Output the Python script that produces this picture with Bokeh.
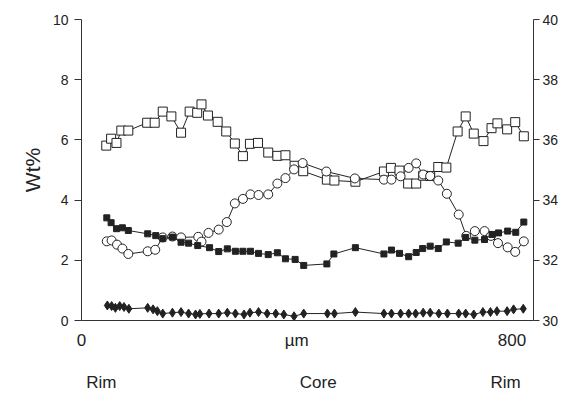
from bokeh.plotting import figure
from bokeh.models import Range1d, LinearAxis, FixedTicker
from bokeh.embed import file_html
from bokeh.resources import INLINE

# ---- data (x in µm) ----
sq_open_x = [46, 55, 65, 74, 87, 122, 136, 151, 167, 185, 201, 215, 223, 235, 253, 269, 285, 300, 313, 328,
             347, 364, 379, 396, 412, 456, 470, 509, 562, 575, 591, 607, 622, 635, 648, 663, 678, 699, 714,
             729, 747, 762, 773, 791, 806, 822]
sq_open_y = [35.81, 36.04, 35.90, 36.31, 36.31, 36.57, 36.57, 36.94, 36.78, 36.24, 36.94, 36.90, 37.18, 36.81,
             36.60, 36.28, 35.88, 35.46, 35.87, 35.90, 35.58, 35.47, 35.49, 35.14, 34.96, 34.68, 34.65, 34.61,
             34.95, 35.07, 34.98, 34.55, 34.55, 34.81, 34.80, 35.10, 35.08, 36.28, 36.78, 36.21, 35.96, 36.39,
             36.55, 36.35, 36.59, 36.12]

circ_x = [47, 56, 66, 76, 87, 123, 137, 151, 169, 185, 217, 223, 236, 255, 270, 285, 300, 314, 329, 347,
          364, 379, 395, 411, 455, 508, 562, 576, 593, 608, 622, 635, 648, 663, 679, 701, 715, 731, 749,
          761, 774, 792, 806, 822]
circ_y = [2.63, 2.66, 2.52, 2.39, 2.21, 2.30, 2.35, 2.76, 2.79, 2.76, 2.78, 2.62, 2.91, 3.02, 3.27, 3.89,
          4.04, 4.19, 4.17, 4.19, 4.55, 4.73, 5.02, 5.23, 4.95, 4.72, 4.68, 4.68, 4.79, 5.07, 5.22, 4.85,
          4.80, 4.65, 4.21, 3.52, 2.81, 2.97, 2.97, 2.81, 2.57, 2.43, 2.28, 2.63]

sq_fill_x = [47, 55, 65, 76, 87, 123, 138, 151, 169, 185, 199, 216, 238, 255, 271, 286, 300, 314, 329, 347,
             364, 379, 397, 413, 456, 469, 509, 562, 576, 591, 608, 622, 634, 648, 663, 678, 700, 714, 731,
             749, 763, 775, 792, 807, 822]
sq_fill_y = [3.41, 3.25, 3.05, 3.08, 2.99, 2.88, 2.82, 2.72, 2.77, 2.60, 2.57, 2.49, 2.42, 2.29, 2.38, 2.30,
             2.30, 2.30, 2.23, 2.19, 2.25, 2.05, 2.03, 1.83, 1.88, 2.21, 2.42, 2.21, 2.34, 2.23, 2.12, 2.26,
             2.39, 2.47, 2.39, 2.61, 2.57, 2.76, 2.67, 2.69, 2.86, 2.91, 2.97, 2.93, 3.27]

dia_x = [48, 56, 63, 71, 79, 88, 123, 133, 141, 151, 169, 185, 199, 212, 220, 237, 255, 271, 286, 302,
         313, 329, 345, 361, 376, 395, 413, 457, 470, 509, 562, 576, 593, 608, 621, 635, 648, 664, 680,
         701, 714, 729, 746, 760, 772, 791, 803, 821]
dia_y = [0.50, 0.48, 0.42, 0.48, 0.45, 0.39, 0.42, 0.37, 0.31, 0.23, 0.26, 0.28, 0.23, 0.20, 0.22, 0.23,
         0.23, 0.26, 0.23, 0.20, 0.26, 0.28, 0.23, 0.23, 0.20, 0.14, 0.23, 0.23, 0.23, 0.28, 0.23, 0.23,
         0.23, 0.23, 0.23, 0.26, 0.26, 0.23, 0.23, 0.23, 0.23, 0.20, 0.28, 0.28, 0.31, 0.31, 0.37, 0.39]

left_ticks = [0, 2, 4, 6, 8, 10]
right_ticks = [30, 32, 34, 36, 38, 40]
x_ticks = [0, 400, 800]
x_tick_labels = {0: "0", 400: "µm", 800: "800"}
pos_ticks = [37, 440, 788]
pos_labels = {37: "Rim", 440: "Core", 788: "Rim"}

FONT = "Liberation Sans"

p = figure(width=564, height=394, output_backend="svg", toolbar_location=None,
           x_range=Range1d(0, 840), y_range=Range1d(0, 10),
           min_border_left=81, min_border_right=31, min_border_top=19, min_border_bottom=73,
           x_axis_location=None)
p.extra_y_ranges = {"right": Range1d(30, 40)}
p.outline_line_color = None
p.grid.visible = False
p.background_fill_color = "white"
p.border_fill_color = "white"

# left axis
ya = p.yaxis[0]
ya.ticker = FixedTicker(ticks=left_ticks)
ya.minor_tick_line_color = None
ya.major_tick_out = 7
ya.major_tick_in = 0
ya.major_label_standoff = 6
ya.major_label_text_font = FONT
ya.major_label_text_font_size = "14px"
ya.major_label_text_color = "#222222"
ya.axis_label = "Wt%"
ya.axis_label_text_font = FONT
ya.axis_label_text_font_size = "21px"
ya.axis_label_text_font_style = "normal"
ya.axis_label_text_color = "#222222"
ya.axis_label_standoff = 6
ya.axis_line_color = "#333333"
ya.major_tick_line_color = "#333333"

# right axis
ra = LinearAxis(y_range_name="right", ticker=FixedTicker(ticks=right_ticks))
ra.minor_tick_line_color = None
ra.major_tick_out = 6
ra.major_tick_in = 0
ra.major_label_standoff = 3
ra.major_label_text_font = FONT
ra.major_label_text_font_size = "14px"
ra.major_label_text_color = "#222222"
ra.axis_line_color = "#333333"
ra.major_tick_line_color = "#333333"
p.add_layout(ra, "right")

# bottom axis with 0 / µm / 800
xa = LinearAxis(ticker=FixedTicker(ticks=x_ticks), major_label_overrides=x_tick_labels)
xa.major_tick_line_color = None
xa.minor_tick_line_color = None
xa.major_tick_out = 0
xa.major_tick_in = 0
xa.major_label_standoff = 10
xa.major_label_text_font = FONT
xa.major_label_text_font_size = "17px"
xa.major_label_text_color = "#222222"
xa.axis_line_color = "#333333"
p.add_layout(xa, "below")

# second row: Rim / Core / Rim
xb = LinearAxis(ticker=FixedTicker(ticks=pos_ticks), major_label_overrides=pos_labels)
xb.major_tick_line_color = None
xb.minor_tick_line_color = None
xb.major_tick_out = 0
xb.major_tick_in = 0
xb.axis_line_color = None
xb.major_label_standoff = 20
xb.major_label_text_font = FONT
xb.major_label_text_font_size = "17px"
xb.major_label_text_color = "#222222"
p.add_layout(xb, "below")

LC = "#222222"
# open squares (right axis)
p.line(sq_open_x, sq_open_y, y_range_name="right", line_color=LC, line_width=1)
p.scatter(sq_open_x, sq_open_y, y_range_name="right", marker="square", size=9,
          fill_color="white", line_color=LC, line_width=1)
# open circles
p.line(circ_x, circ_y, line_color=LC, line_width=1)
p.scatter(circ_x, circ_y, marker="circle", size=9, fill_color="white", line_color=LC, line_width=1)
# filled squares
p.line(sq_fill_x, sq_fill_y, line_color=LC, line_width=1)
p.scatter(sq_fill_x, sq_fill_y, marker="square", size=6, fill_color=LC, line_color=LC)
# filled diamonds
p.line(dia_x, dia_y, line_color=LC, line_width=1)
p.scatter(dia_x, dia_y, marker="diamond", size=9, fill_color=LC, line_color=LC)

open("out.html", "w").write(file_html(p, INLINE))
